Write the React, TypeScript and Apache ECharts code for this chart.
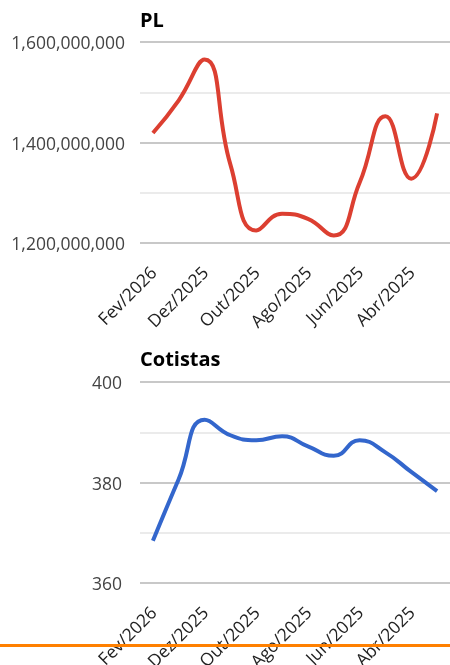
import React, { useEffect, useRef } from "react";
import * as echarts from "echarts";

const months = [
  "Fev/2026", "Jan/2026", "Dez/2025", "Nov/2025", "Out/2025", "Set/2025",
  "Ago/2025", "Jul/2025", "Jun/2025", "Mai/2025", "Abr/2025", "Mar/2025",
];
const plValues = [
  1419e6, 1484e6, 1565e6, 1356e6, 1225e6, 1258e6,
  1248e6, 1215e6, 1320e6, 1452e6, 1328e6, 1458e6,
];
const cotistasValues = [368.4, 380.7, 392.5, 389.4, 388.4, 389.2, 387.2, 385.3, 388.4, 386, 382.1, 378.3];
const plTitle = "PL";
const cotistasTitle = "Cotistas";

const FONT = "Open Sans";

export default function App() {
  const ref = useRef<HTMLDivElement>(null);
  useEffect(() => {
    if (!ref.current) return;
    const chart = echarts.init(ref.current, null, { renderer: "svg" });
    const fmt = (v: number) => v.toLocaleString("en-US");
    const yLabel = (step: number, margin: number) => ({
      color: "#444",
      fontSize: 17.5,
      fontFamily: FONT,
      margin,
      formatter: (v: number) => (Math.round(v / step) % 2 === 0 ? fmt(v) : ""),
    });
    const xAxisBase = (gridIndex: number) => ({
      type: "category" as const,
      gridIndex,
      data: months,
      boundaryGap: true,
      axisLine: { show: false },
      axisTick: { show: false },
      axisLabel: {
        rotate: 45,
        interval: 1,
        color: "#222",
        fontSize: 17.5,
        fontFamily: FONT,
        margin: 26,
      },
    });
    const splitLine = {
      show: true,
      lineStyle: { color: ["#c8c8c8", "#ebebeb"], width: 2 },
    };
    const titleStyle = { fontSize: 20, fontWeight: "bold", color: "#000", fontFamily: FONT };
    chart.setOption({
      animation: false,
      title: [
        { text: plTitle, left: 140, top: 9, padding: 0, textStyle: titleStyle },
        { text: cotistasTitle, left: 140, top: 348, padding: 0, textStyle: titleStyle },
      ],
      grid: [
        { left: 140, top: 42, width: 310, height: 201, containLabel: false, outerBoundsMode: "none" },
        { left: 140, top: 382, width: 310, height: 201, containLabel: false, outerBoundsMode: "none" },
      ],
      xAxis: [xAxisBase(0), xAxisBase(1)],
      yAxis: [
        {
          type: "value",
          gridIndex: 0,
          min: 1.2e9,
          max: 1.6e9,
          interval: 1e8,
          axisLine: { show: false },
          axisTick: { show: false },
          axisLabel: yLabel(1e8, 15),
          splitLine,
        },
        {
          type: "value",
          gridIndex: 1,
          min: 360,
          max: 400,
          interval: 10,
          axisLine: { show: false },
          axisTick: { show: false },
          axisLabel: yLabel(10, 18),
          splitLine,
        },
      ],
      series: [
        {
          type: "line",
          xAxisIndex: 0,
          yAxisIndex: 0,
          data: plValues,
          smooth: 0.5,
          showSymbol: false,
          symbol: "none",
          lineStyle: { color: "#dc3f31", width: 4 },
        },
        {
          type: "line",
          xAxisIndex: 1,
          yAxisIndex: 1,
          data: cotistasValues,
          smooth: 0.5,
          showSymbol: false,
          symbol: "none",
          lineStyle: { color: "#3366cc", width: 4 },
        },
      ],
      graphic: [
        {
          type: "rect",
          z: 100,
          shape: { x: 0, y: 644, width: 450, height: 3 },
          style: { fill: "#ff8000" },
        },
      ],
    });
    return () => chart.dispose();
  }, []);
  return (
    <div
      ref={ref}
      style={{ position: "fixed", left: 0, top: 0, width: 450, height: 665 }}
    />
  );
}
